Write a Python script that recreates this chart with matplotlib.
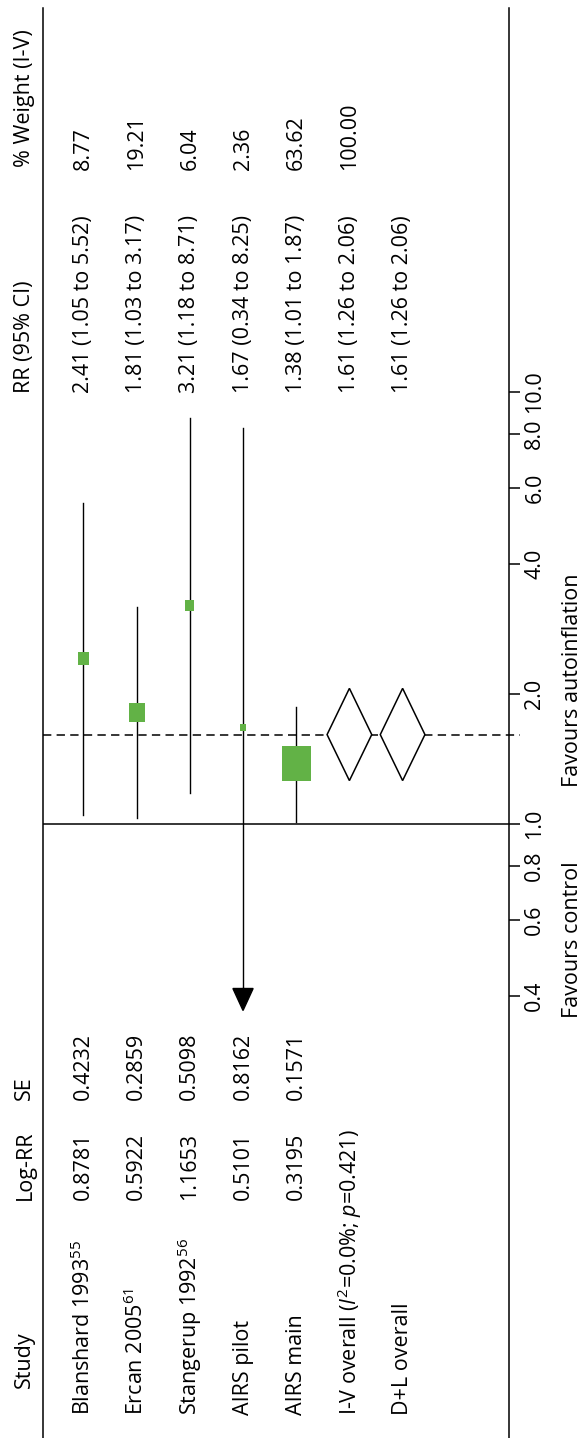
import numpy as np
import matplotlib
matplotlib.use("Agg")
import matplotlib.pyplot as plt
import matplotlib.transforms as mtransforms
from matplotlib.patches import Rectangle, Polygon
from matplotlib.ticker import FixedLocator, FixedFormatter, NullLocator

plt.rcParams["font.family"] = ["Open Sans", "DejaVu Sans"]
plt.rcParams["mathtext.fontset"] = "custom"
plt.rcParams["mathtext.rm"] = "Open Sans"
plt.rcParams["mathtext.it"] = "Open Sans:italic"
plt.rcParams["lines.scale_dashes"] = False

# %%
# Study-level data
# %%
studies = ["Blanshard 1993$^{55}$", "Ercan 2005$^{61}$", "Stangerup 1992$^{56}$",
           "AIRS pilot", "AIRS main"]
log_rr = [0.8781, 0.5922, 1.1653, 0.5101, 0.3195]
se = [0.4232, 0.2859, 0.5098, 0.8162, 0.1571]
rr = [2.41, 1.81, 3.21, 1.67, 1.38]
ci_lo = [1.05, 1.03, 1.18, 0.34, 1.01]
ci_hi = [5.52, 3.17, 8.71, 8.25, 1.87]
weight = [8.77, 19.21, 6.04, 2.36, 63.62]

# pooled estimates
pooled = ["I-V overall ($I^2$=0.0%; $p$=0.421)", "D+L overall"]
pooled_rr = [1.61, 1.61]
pooled_lo = [1.26, 1.26]
pooled_hi = [2.06, 2.06]
pooled_weight = [100.00, None]

headers = ["Study", "Log-RR", "SE", "RR (95% CI)", "% Weight (I-V)"]
tick_vals = [0.4, 0.6, 0.8, 1.0, 2.0, 4.0, 6.0, 8.0, 10.0]
tick_labels = ["0.4", "0.6", "0.8", "1.0", "2.0", "4.0", "6.0", "8.0", "10.0"]
x_min = 0.4  # lower plotting limit, CI below this gets an arrow

green = "#62B246"
fs = 15.5

# %%
# Figure / axes (rows run left to right, RR runs bottom to top)
# %%
W, H = 582, 1438
fig = plt.figure(figsize=(W / 100, H / 100), dpi=100)
ax = fig.add_axes([43 / W, 0, (509 - 43) / W, (H - 8) / H])
ax.set_yscale("log")
ax.set_ylim(0.0379, 77.4)
ax.set_xlim(0.24, 9.0)


def fy(p):
    # figure fraction from a pixel row counted from the top
    return 1 - p / H


row = np.arange(1, len(studies) + 1)
prow = np.arange(len(studies) + 1, len(studies) + len(pooled) + 1)
hdr_row = -0.1

# null line and pooled estimate line
ax.axhline(1.0, color="black", lw=1.1, zorder=2)
ax.axhline(pooled_rr[0], xmin=0, xmax=(520 - 43) / (509 - 43), color="black",
           lw=1.1, dashes=(6, 3.8), clip_on=False, zorder=2)

# CIs and weight boxes
for i in range(len(studies)):
    lo = max(ci_lo[i], x_min)
    ax.plot([row[i], row[i]], [lo, ci_hi[i]], color="black", lw=1.0, zorder=3)
    if ci_lo[i] < x_min:
        ah = 10 ** (22 / 432)
        tip = 0.37
        ax.add_patch(Polygon([[row[i] - 0.19, tip * ah], [row[i] + 0.19, tip * ah],
                              [row[i], tip]], closed=True, color="black", zorder=4))
        ax.plot([row[i], row[i]], [tip * ah, lo], color="black", lw=1.0, zorder=3)
    bw = 0.0684 * np.sqrt(weight[i])
    bh = 0.0101 * np.sqrt(weight[i])
    ax.add_patch(Rectangle((row[i] - bw / 2, rr[i] * 10 ** (-bh / 2)), bw,
                           rr[i] * (10 ** (bh / 2) - 10 ** (-bh / 2)),
                           facecolor=green, edgecolor="none", zorder=4))

# pooled diamonds
for j in range(len(pooled)):
    x = prow[j]
    ax.add_patch(Polygon([[x, pooled_lo[j]], [x + 0.42, pooled_rr[j]],
                          [x, pooled_hi[j]], [x - 0.42, pooled_rr[j]]],
                         closed=True, facecolor="white", edgecolor="black",
                         lw=1.1, zorder=4))

# axes styling
for s in ["top", "bottom"]:
    ax.spines[s].set_visible(False)
for s in ["left", "right"]:
    ax.spines[s].set_linewidth(1.1)
ax.set_xticks([])
ax.yaxis.tick_right()
ax.yaxis.set_major_locator(FixedLocator(tick_vals))
ax.yaxis.set_major_formatter(FixedFormatter(tick_labels))
ax.yaxis.set_minor_locator(NullLocator())
ax.tick_params(axis="y", direction="out", length=8, width=1.1, pad=3,
               labelsize=fs, labelrotation=90)
for lab in ax.get_yticklabels():
    lab.set_va("center")

# %%
# Table text
# %%
tr = mtransforms.blended_transform_factory(ax.transData, fig.transFigure)
kw = dict(rotation=90, ha="center", va="bottom", fontsize=fs, transform=tr)

hdr_start = [1388, 1200, 1100, 393, 167]
for h, p in zip(headers, hdr_start):
    ax.text(hdr_row, fy(p), h, **kw)

for i in range(len(studies)):
    ax.text(row[i], fy(1415), studies[i], **kw)
    ax.text(row[i], fy(1200), f"{log_rr[i]:.4f}", **kw)
    ax.text(row[i], fy(1100), f"{se[i]:.4f}", **kw)
    ax.text(row[i], fy(393), f"{rr[i]:.2f} ({ci_lo[i]:.2f} to {ci_hi[i]:.2f})", **kw)
    ax.text(row[i], fy(170), f"{weight[i]:.2f}", **kw)

for j in range(len(pooled)):
    ax.text(prow[j], fy(1415), pooled[j], **kw)
    ax.text(prow[j], fy(393),
            f"{pooled_rr[j]:.2f} ({pooled_lo[j]:.2f} to {pooled_hi[j]:.2f})", **kw)
    if pooled_weight[j] is not None:
        ax.text(prow[j], fy(170), f"{pooled_weight[j]:.2f}", **kw)

# direction labels either side of the null line
tr2 = mtransforms.blended_transform_factory(fig.transFigure, ax.transData)
ax.text(572 / W, 10 ** (-37 / 432), "Favours control", rotation=90, ha="center",
        va="top", fontsize=fs, transform=tr2)
ax.text(572 / W, 10 ** (37 / 432), "Favours autoinflation", rotation=90,
        ha="center", va="bottom", fontsize=fs, transform=tr2)

fig.savefig("out.png", dpi=100)
